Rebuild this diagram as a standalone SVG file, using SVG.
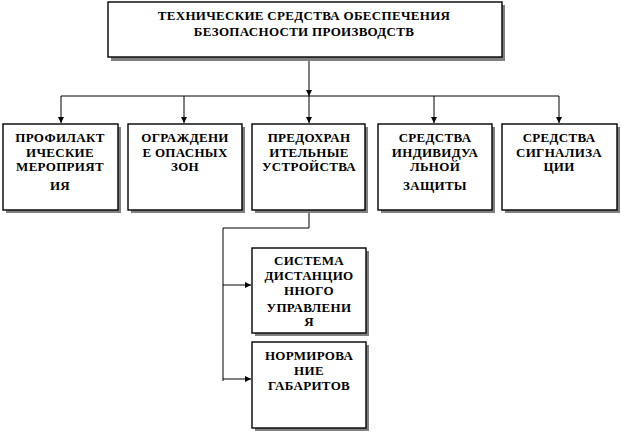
<svg xmlns="http://www.w3.org/2000/svg" width="622" height="433" viewBox="0 0 622 433">
<defs>
<style>
.shadow{fill:#808080;stroke:none}
.box{fill:#ffffff;stroke:#000000;stroke-width:1.4}
.t{font-family:"Liberation Serif","Times New Roman",serif;font-weight:bold;font-size:13px;letter-spacing:0.3px;fill:#000;text-anchor:middle}
.c{fill:none;stroke:#000;stroke-width:1}
</style>
<marker id="ah" markerUnits="userSpaceOnUse" markerWidth="7" markerHeight="7" refX="6" refY="3" orient="auto">
<path d="M0,0 L6,3 L0,6 z" fill="#000"/>
</marker>
</defs>
<rect width="622" height="433" fill="#ffffff"/>

<g id="connectors">
<line class="c" x1="309" y1="57" x2="309" y2="96" marker-end="url(#ah)"/>
<line class="c" x1="61" y1="96" x2="559" y2="96"/>
<line class="c" x1="61" y1="96" x2="61" y2="123" marker-end="url(#ah)"/>
<line class="c" x1="184" y1="96" x2="184" y2="123" marker-end="url(#ah)"/>
<line class="c" x1="309" y1="96" x2="309" y2="123" marker-end="url(#ah)"/>
<line class="c" x1="434" y1="96" x2="434" y2="123" marker-end="url(#ah)"/>
<line class="c" x1="559" y1="96" x2="559" y2="123" marker-end="url(#ah)"/>
<polyline class="c" points="309,210 309,228 223,228 223,381"/>
<line class="c" x1="223" y1="285" x2="251" y2="285" marker-end="url(#ah)"/>
<line class="c" x1="223" y1="379" x2="251" y2="379" marker-end="url(#ah)"/>
</g>

<g id="node-top">
<rect class="shadow" x="111" y="5" width="394" height="56"/>
<rect class="box" x="108" y="2" width="394" height="55"/>
<text class="t" x="304" y="20">ТЕХНИЧЕСКИЕ СРЕДСТВА ОБЕСПЕЧЕНИЯ</text>
<text class="t" x="304" y="36">БЕЗОПАСНОСТИ ПРОИЗВОДСТВ</text>
</g>

<g id="node-prof">
<rect class="shadow" x="6" y="127" width="115" height="86"/>
<rect class="box" x="3" y="124" width="115" height="86"/>
<text class="t" x="60" y="142">ПРОФИЛАКТ</text>
<text class="t" x="60" y="157">ИЧЕСКИЕ</text>
<text class="t" x="60" y="171">МЕРОПРИЯТ</text>
<text class="t" x="60" y="190">ИЯ</text>
</g>

<g id="node-ogr">
<rect class="shadow" x="131" y="127" width="114" height="86"/>
<rect class="box" x="128" y="124" width="114" height="86"/>
<text class="t" x="185" y="142">ОГРАЖДЕНИ</text>
<text class="t" x="185" y="157">Е ОПАСНЫХ</text>
<text class="t" x="185" y="171">ЗОН</text>
</g>

<g id="node-pred">
<rect class="shadow" x="255" y="127" width="113" height="86"/>
<rect class="box" x="252" y="124" width="113" height="86"/>
<text class="t" x="309" y="142">ПРЕДОХРАН</text>
<text class="t" x="309" y="157">ИТЕЛЬНЫЕ</text>
<text class="t" x="309" y="171">УСТРОЙСТВА</text>
</g>

<g id="node-sredind">
<rect class="shadow" x="381" y="127" width="114" height="86"/>
<rect class="box" x="378" y="124" width="114" height="86"/>
<text class="t" x="435" y="142">СРЕДСТВА</text>
<text class="t" x="435" y="157">ИНДИВИДУА</text>
<text class="t" x="435" y="171">ЛЬНОЙ</text>
<text class="t" x="435" y="190">ЗАЩИТЫ</text>
</g>

<g id="node-sredsig">
<rect class="shadow" x="505" y="127" width="115" height="86"/>
<rect class="box" x="502" y="124" width="115" height="86"/>
<text class="t" x="559" y="142">СРЕДСТВА</text>
<text class="t" x="559" y="157">СИГНАЛИЗА</text>
<text class="t" x="559" y="171">ЦИИ</text>
</g>

<g id="node-sist">
<rect class="shadow" x="255" y="251" width="114" height="85"/>
<rect class="box" x="252" y="248" width="114" height="85"/>
<text class="t" x="309" y="265">СИСТЕМА</text>
<text class="t" x="309" y="280">ДИСТАНЦИО</text>
<text class="t" x="309" y="295">ННОГО</text>
<text class="t" x="309" y="312">УПРАВЛЕНИ</text>
<text class="t" x="309" y="326">Я</text>
</g>

<g id="node-norm">
<rect class="shadow" x="255" y="345" width="114" height="86"/>
<rect class="box" x="252" y="342" width="114" height="86"/>
<text class="t" x="309" y="360">НОРМИРОВА</text>
<text class="t" x="309" y="375">НИЕ</text>
<text class="t" x="309" y="390">ГАБАРИТОВ</text>
</g>
</svg>
